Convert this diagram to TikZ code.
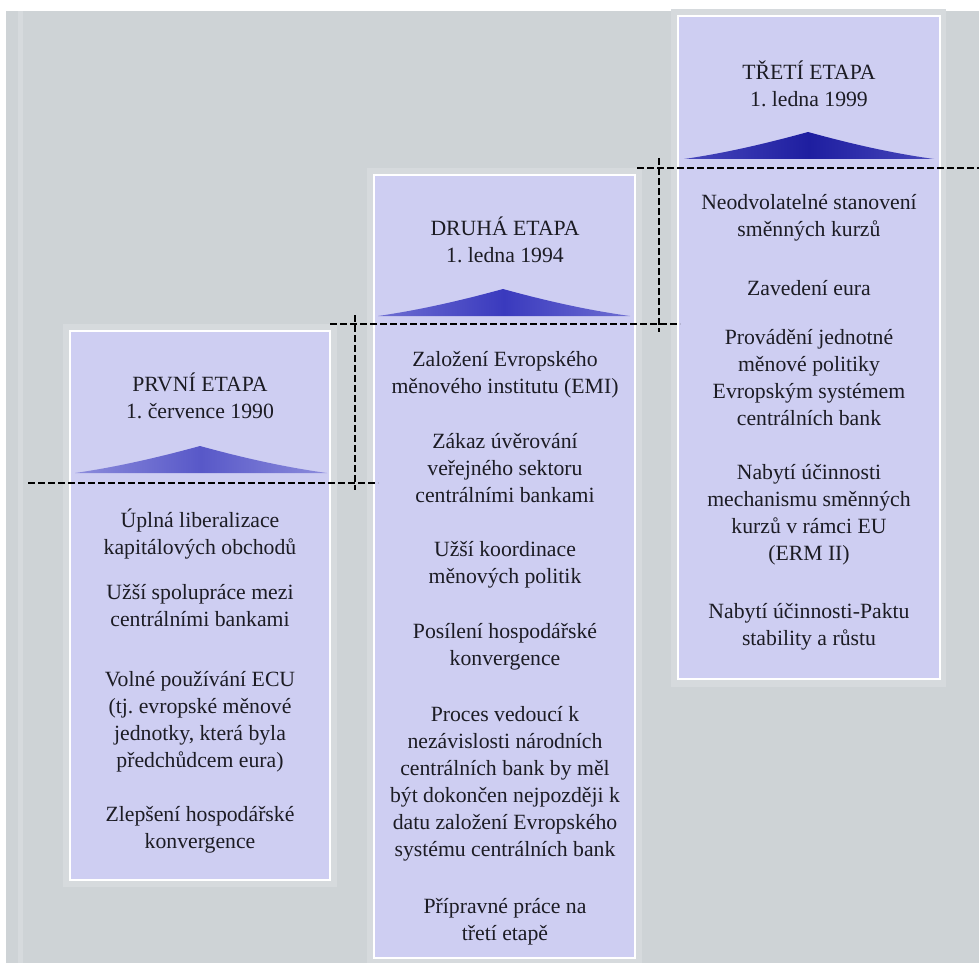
\documentclass[tikz,border=0pt]{standalone}
\usepackage{fontspec}
\setmainfont{Liberation Serif}
\frenchspacing
\definecolor{bg}{RGB}{206,211,214}
\definecolor{band}{RGB}{214,218,221}
\definecolor{lav}{RGB}{206,206,242}
\definecolor{txt}{RGB}{28,28,36}
\definecolor{triAm}{RGB}{88,88,200}
\definecolor{triAe}{RGB}{140,140,220}
\definecolor{triBm}{RGB}{58,58,190}
\definecolor{triBe}{RGB}{110,110,210}
\definecolor{triCm}{RGB}{30,30,160}
\definecolor{triCe}{RGB}{72,72,188}
\begin{document}
\begin{tikzpicture}[x=0.75pt,y=-0.75pt,
  stagebox/.style={fill=lav, draw=white, line width=1.8pt},
  bandbox/.style={fill=band, draw=none},
  txtblock/.style={anchor=north, align=center, inner sep=0pt, text=txt,
    font=\fontsize{16.3}{20.25}\selectfont, execute at begin node=\strut},
  guide/.style={draw=black, line width=1.4pt, dash pattern=on 5pt off 2.5pt}]
% page
\useasboundingbox (0,0) rectangle (979,963);
\fill[white] (0,0) rectangle (979,963);
\fill[bg] (6,11) rectangle (979,963);
\fill[band] (18,11) rectangle (23,963);
% outer bands
\fill[bandbox] (63,324) rectangle (337,887);
\fill[bandbox] (367,168) rectangle (642,963);
\fill[bandbox] (671,9) rectangle (946,687);
% boxes
\draw[stagebox] (70,331) rectangle (330,880);
\draw[stagebox] (374,175) rectangle (635,958);
\draw[stagebox] (678,16) rectangle (940,679);
% triangles
\shade[left color=triAe, right color=triAe, middle color=triAm]
  (75,473) .. controls (117,467) and (160,457) .. (200,446)
  .. controls (240,457) and (283,467) .. (327,473) -- cycle;
\shade[left color=triBe, right color=triBe, middle color=triBm]
  (378,316) .. controls (420,310) and (463,300) .. (503,289)
  .. controls (543,300) and (586,310) .. (630,316) -- cycle;
\shade[left color=triCe, right color=triCe, middle color=triCm]
  (684,159) .. controls (726,153) and (768,143) .. (808,132)
  .. controls (848,143) and (890,153) .. (934,159) -- cycle;
% dashed guides
\coordinate (g1a) at (28,483);  \coordinate (g1b) at (378,483);
\coordinate (v1a) at (355,315); \coordinate (v1b) at (355,490);
\coordinate (g2a) at (330,324); \coordinate (g2b) at (680,324);
\coordinate (v2a) at (659,158); \coordinate (v2b) at (659,332);
\coordinate (g3a) at (637,168); \coordinate (g3b) at (979,168);
\draw[guide] (g1a) -- (g1b);
\draw[guide] (v1a) -- (v1b);
\draw[guide] (g2a) -- (g2b);
\draw[guide] (v2a) -- (v2b);
\draw[guide] (g3a) -- (g3b);
% stage 1
\node[txtblock] (h1) at (200,373) {PRVNÍ ETAPA\\1. července 1990};
\node[txtblock] (a1) at (200,509) {Úplná liberalizace\\kapitálových obchodů};
\node[txtblock] (a2) at (200,584) {Užší spolupráce mezi\\centrálními bankami};
\node[txtblock] (a3) at (200,671) {Volné používání ECU\\(tj. evropské měnové\\jednotky, která byla\\předchůdcem eura)};
\node[txtblock] (a4) at (200,806) {Zlepšení hospodářské\\konvergence};
% stage 2
\node[txtblock] (h2) at (505,217) {DRUHÁ ETAPA\\1. ledna 1994};
\node[txtblock] (b1) at (505,351) {Založení Evropského\\měnového institutu (EMI)};
\node[txtblock] (b2) at (505,433) {Zákaz úvěrování\\veřejného sektoru\\centrálními bankami};
\node[txtblock] (b3) at (505,541) {Užší koordinace\\měnových politik};
\node[txtblock] (b4) at (505,623) {Posílení hospodářské\\konvergence};
\node[txtblock] (b5) at (505,706) {Proces vedoucí k\\nezávislosti národních\\centrálních bank by měl\\být dokončen nejpozději k\\datu založení Evropského\\systému centrálních bank};
\node[txtblock] (b6) at (505,898) {Přípravné práce na\\třetí etapě};
% stage 3
\node[txtblock] (h3) at (809,61) {TŘETÍ ETAPA\\1. ledna 1999};
\node[txtblock] (c1) at (809,194) {Neodvolatelné stanovení\\směnných kurzů};
\node[txtblock] (c2) at (809,276) {Zavedení eura};
\node[txtblock] (c3) at (809,329) {Provádění jednotné\\měnové politiky\\Evropským systémem\\centrálních bank};
\node[txtblock] (c4) at (809,464) {Nabytí účinnosti\\mechanismu směnných\\kurzů v rámci EU\\(ERM II)};
\node[txtblock] (c5) at (809,603) {Nabytí účinnosti-Paktu\\stability a růstu};
\end{tikzpicture}
\end{document}
